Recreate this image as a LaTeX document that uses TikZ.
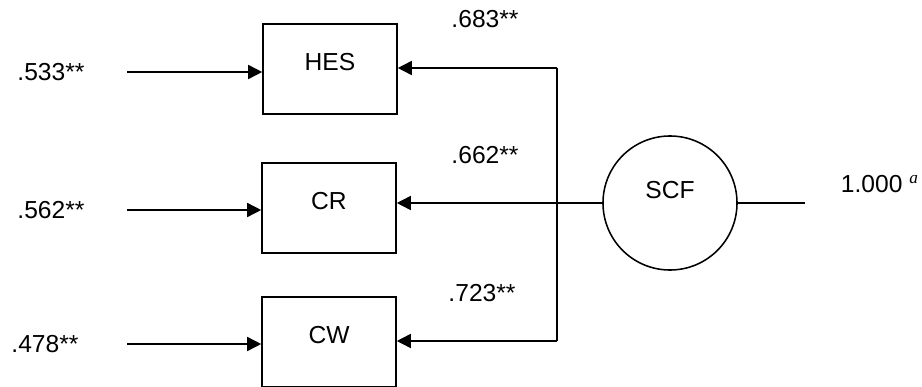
\documentclass[tikz,border=0pt]{standalone}
\usepackage{fontspec}
\setmainfont{Liberation Sans}
\newfontfamily\supfont{Liberation Serif}
\usetikzlibrary{arrows.meta}

\begin{document}
\begin{tikzpicture}[x=0.025cm, y=-0.025cm,
    every node/.style={font=\fontsize{17.5}{20}\selectfont},
    var/.style={draw, line width=1.1pt, minimum width=3.35cm, minimum height=2.25cm, text height=12pt, text depth=10pt},
    fac/.style={draw, circle, line width=1.1pt, minimum size=3.35cm, text height=10pt, text depth=16pt},
    link/.style={line width=1.1pt},
    arr/.style={link, -{Triangle[length=10pt, width=10pt]}}]
    \useasboundingbox (0,0) rectangle (922,387);
    % observed variables and the factor
    \node[var] (hes) at (330,69) {HES};
    \node[var] (cr) at (329,208) {CR};
    \node[var] (cw) at (329,342) {CW};
    \node[fac] (scf) at (670,203) {SCF};
    % error terms
    \node (e1) at (51,72) {.533**};
    \node (e2) at (51,210) {.562**};
    \node (e3) at (45,344) {.478**};
    \coordinate (in1) at (127,72);
    \coordinate (in2) at (127,210);
    \coordinate (in3) at (127,344);
    \draw[arr] (in1) -- (in1 -| hes.west);
    \draw[arr] (in2) -- (in2 -| cr.west);
    \draw[arr] (in3) -- (in3 -| cw.west);
    % loadings
    \coordinate (top) at (557,68);
    \coordinate (bot) at (557,341);
    \draw[link] (top) -- (bot);
    \draw[arr] (top) -- (top -| hes.east);
    \draw[arr] (scf.west) -- (scf.west -| cr.east);
    \draw[arr] (bot) -- (bot -| cw.east);
    \node (w1) at (485,19) {.683**};
    \node (w2) at (485,155) {.662**};
    \node (w3) at (482,293) {.723**};
    % fixed variance
    \coordinate (out) at (805,203);
    \draw[link] (scf.east) -- (out);
    \node[anchor=west] (fix) at (836,184) {1.000~\textsuperscript{\supfont\itshape a}};
\end{tikzpicture}
\end{document}
